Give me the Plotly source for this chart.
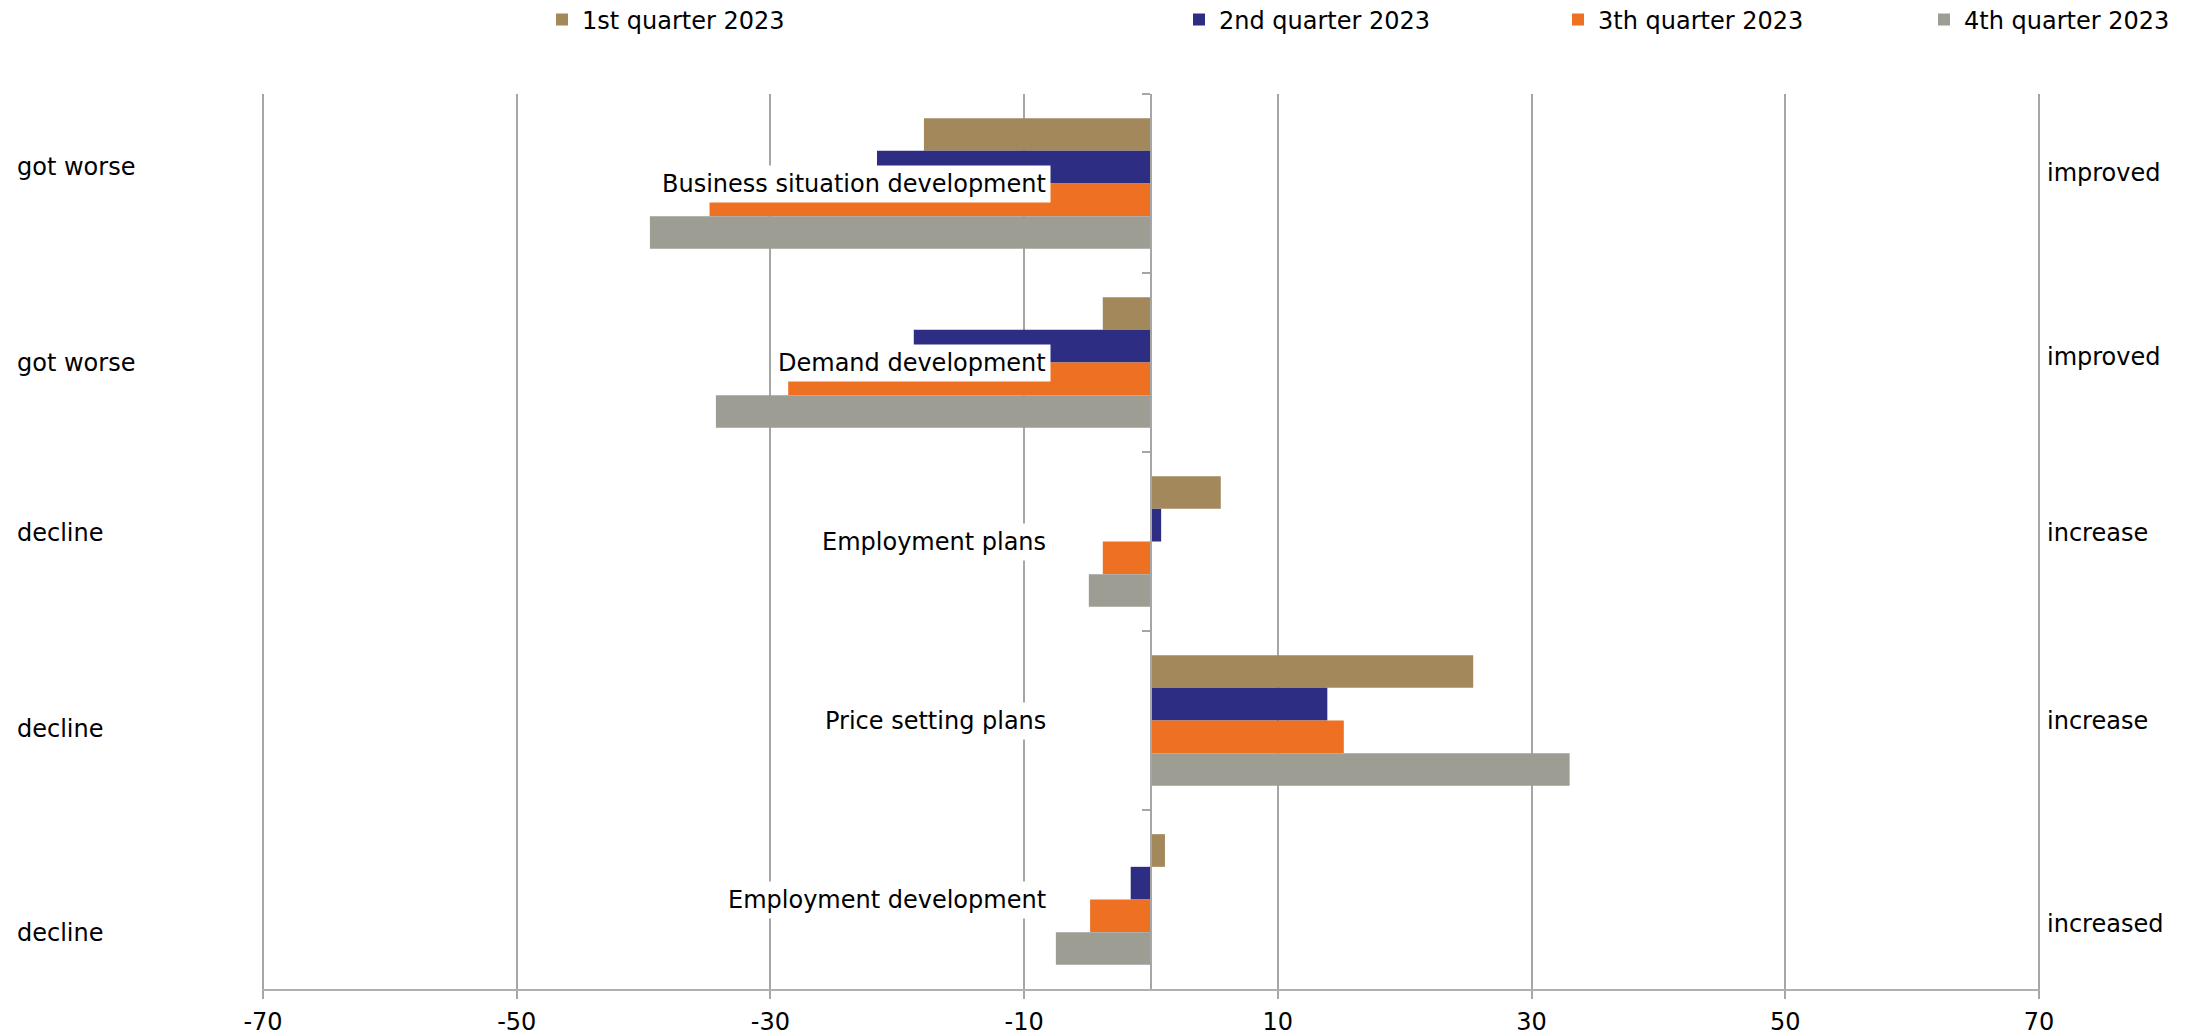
import plotly.graph_objects as go

# ---------------- data ----------------
CATEGORIES = [
    "Business situation development",
    "Demand development",
    "Employment plans",
    "Price setting plans",
    "Employment development",
]
SERIES_NAMES = ["1st quarter 2023", "2nd quarter 2023", "3th quarter 2023", "4th quarter 2023"]
Q1_2023 = [-17.9, -3.8, 5.5, 25.4, 1.1]
Q2_2023 = [-21.6, -18.7, 0.8, 13.9, -1.6]
Q3_2023 = [-34.8, -28.6, -3.8, 15.2, -4.8]
Q4_2023 = [-39.5, -34.3, -4.9, 33.0, -7.5]
LEFT_LABELS = ["got worse", "got worse", "decline", "decline", "decline"]
RIGHT_LABELS = ["improved", "improved", "increase", "increase", "increased"]
X_TICKS = [-70, -50, -30, -10, 10, 30, 50, 70]
X_TICK_LABELS = ["-70", "-50", "-30", "-10", "10", "30", "50", "70"]

# ---------------- style ----------------
COLORS = ["#A3885C", "#2D2D84", "#EE7023", "#9D9D94"]
FONT = "DejaVu Sans"
FS = 24
GRID = "#A6A6A6"

W, H = 2195, 1035
L, R, T, B = 262, 155, 94, 46
PW, PH = W - L - R, H - T - B


def px_x(px):
    return (px - L) / PW


def px_y(py):
    return (H - B - py) / PH


fig = go.Figure()
series = [Q1_2023, Q2_2023, Q3_2023, Q4_2023]
legend_ids = ["legend", "legend2", "legend3", "legend4"]
for name, vals, col, lg in zip(SERIES_NAMES, series, COLORS, legend_ids):
    fig.add_trace(go.Bar(
        y=CATEGORIES, x=vals, orientation="h", name=name,
        marker=dict(color=col, line=dict(width=0)),
        legend=lg, hoverinfo="x+name",
    ))

# legends, one per series, to reproduce uneven spacing
legend_left_px = [542, 1179, 1558, 1924]
legend_layout = {}
for lg, lx in zip(legend_ids, legend_left_px):
    legend_layout[lg] = dict(
        x=px_x(lx), y=px_y(20), xanchor="left", yanchor="middle",
        orientation="h", font=dict(family=FONT, size=FS, color="black"),
        bgcolor="rgba(0,0,0,0)", borderwidth=0, itemwidth=30,
    )

annotations = []
# category labels with white boxes
for cat in CATEGORIES:
    annotations.append(dict(
        x=-7.9, y=cat, xref="x", yref="y", text=cat, showarrow=False,
        xanchor="right", yanchor="middle",
        font=dict(family=FONT, size=FS, color="black"),
        bgcolor="white", borderpad=4,
    ))

left_py = [167, 363, 533, 729, 933]
right_py = [173, 357, 533, 721, 924]
for txt, py in zip(LEFT_LABELS, left_py):
    annotations.append(dict(
        x=px_x(15), y=px_y(py), xref="paper", yref="paper", text=txt,
        showarrow=False, xanchor="left", yanchor="middle",
        font=dict(family=FONT, size=FS, color="black"),
    ))
for txt, py in zip(RIGHT_LABELS, right_py):
    annotations.append(dict(
        x=px_x(2045), y=px_y(py), xref="paper", yref="paper", text=txt,
        showarrow=False, xanchor="left", yanchor="middle",
        font=dict(family=FONT, size=FS, color="black"),
    ))

fig.update_layout(
    width=W, height=H,
    margin=dict(l=L, r=R, t=T, b=B, pad=0, autoexpand=False),
    paper_bgcolor="white", plot_bgcolor="white",
    barmode="group", bargap=0.27, bargroupgap=0,
    font=dict(family=FONT, size=FS, color="black"),
    annotations=annotations,
    showlegend=True,
    **legend_layout,
)

fig.update_xaxes(
    range=[-70.08, 70.08], tickmode="array", tickvals=X_TICKS, ticktext=X_TICK_LABELS,
    showgrid=True, gridcolor=GRID, gridwidth=1.5,
    zeroline=False, showline=True, linecolor="#B0B0B0", linewidth=2,
    ticks="outside", ticklen=8, tickcolor=GRID, tickwidth=1.5,
    ticklabelstandoff=2,
    tickfont=dict(family=FONT, size=FS, color="black"),
    mirror=False,
)
fig.update_yaxes(
    autorange="reversed", type="category",
    anchor="free", position=0.5,
    showticklabels=False, showgrid=False, zeroline=False,
    showline=True, linecolor=GRID, linewidth=1.5,
    ticks="outside", tickson="boundaries", ticklen=8, tickcolor=GRID, tickwidth=1.5,
)

fig.write_html(
    "out.html",
    config={"displayModeBar": False},
    post_script="document.body.style.margin='0';document.body.style.overflow='hidden';",
)
